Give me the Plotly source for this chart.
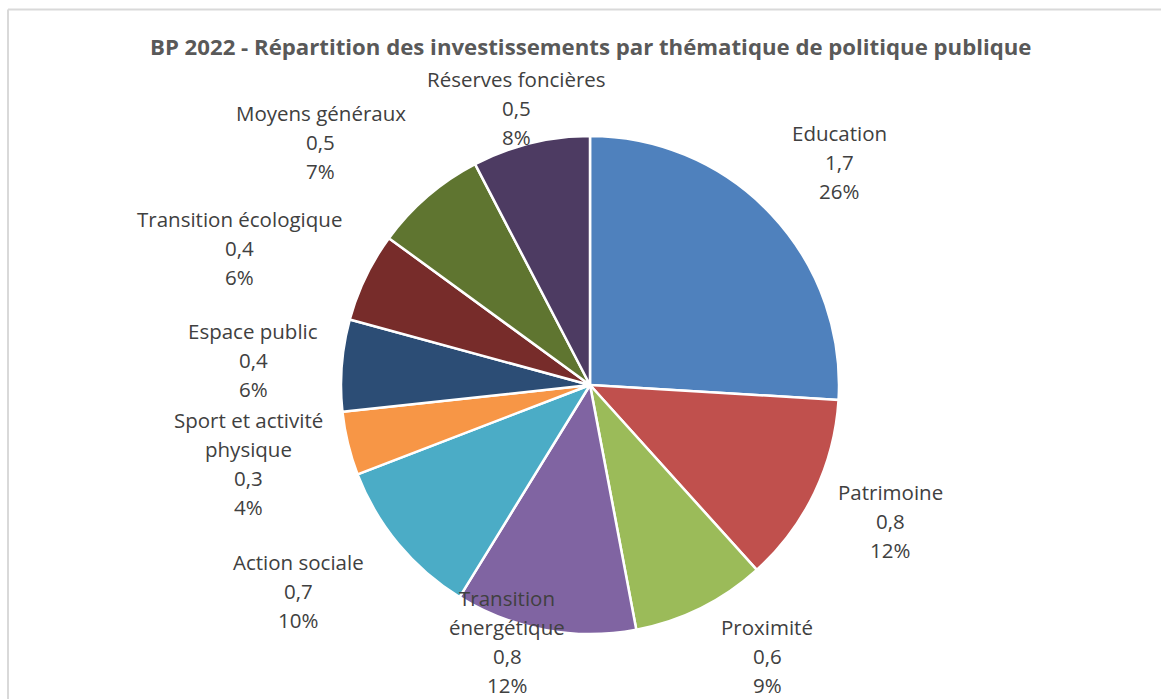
import plotly.graph_objects as go

# ---- data ----
categories = ["Education", "Patrimoine", "Proximité", "Transition énergétique",
              "Action sociale", "Sport et activité physique", "Espace public",
              "Transition écologique", "Moyens généraux", "Réserves foncières"]
display_lines = [["Education"], ["Patrimoine"], ["Proximité"], ["Transition", "énergétique"],
                 ["Action sociale"], ["Sport et activité", "physique"], ["Espace public"],
                 ["Transition écologique"], ["Moyens généraux"], ["Réserves foncières"]]
values = [1.70, 0.81, 0.57, 0.77, 0.68, 0.27, 0.39, 0.38, 0.48, 0.50]
colors = ["#4F81BD", "#C0504D", "#9BBB59", "#8064A2", "#4BACC6",
          "#F79646", "#2C4D75", "#772C2A", "#5F7530", "#4D3B62"]
title = "BP 2022 - Répartition des investissements par thématique de politique publique"

# ---- layout (pixels) ----
W, H = 1161, 699
cx, cy, r = 590, 385, 249
# label anchor: (center x, y of first line) in pixels
label_pos = [(839, 133), (890, 492), (767, 627), (507, 598), (298, 562),
             (248, 420), (253, 331), (239, 219), (321, 113), (516, 79)]
line_h = 29.0

def px(x):
    return x / W

def py(y):
    return 1 - y / H

fig = go.Figure()
fig.add_trace(go.Pie(
    labels=categories, values=values, sort=False, direction="clockwise", rotation=0,
    marker=dict(colors=colors, line=dict(color="white", width=2.5)),
    textinfo="none", hoverinfo="label+value+percent", showlegend=False,
    domain=dict(x=[px(cx - r), px(cx + r)], y=[py(cy + r), py(cy - r)]),
))

total = sum(values)
annotations = []
for lines, v, (lx, ly) in zip(display_lines, values, label_pos):
    pct = round(v / total * 100)
    all_lines = lines + [f"{v:.1f}".replace(".", ","), f"{pct}%"]
    for i, t in enumerate(all_lines):
        annotations.append(dict(
            x=px(lx), y=py(ly + i * line_h), xref="paper", yref="paper",
            text=t, showarrow=False, xanchor="center", yanchor="middle", borderpad=0,
            font=dict(family="Open Sans", size=20.5, color="#404040")))

annotations.append(dict(
    x=px(590), y=py(47), xref="paper", yref="paper", text="<b>" + title + "</b>",
    showarrow=False, xanchor="center", yanchor="middle",
    font=dict(family="Open Sans", size=22.2, color="#595959")))

fig.update_layout(
    width=W, height=H, margin=dict(l=0, r=0, t=0, b=0),
    paper_bgcolor="white", plot_bgcolor="white",
    annotations=annotations,
    shapes=[
        dict(type="line", xref="paper", yref="paper", x0=px(8), x1=1.01, y0=py(9.5), y1=py(9.5),
             line=dict(color="#D9D9D9", width=2)),
        dict(type="line", xref="paper", yref="paper", x0=px(8), x1=px(8), y0=py(9.5), y1=-0.01,
             line=dict(color="#D9D9D9", width=2)),
    ],
)

fig.write_html("out.html")
